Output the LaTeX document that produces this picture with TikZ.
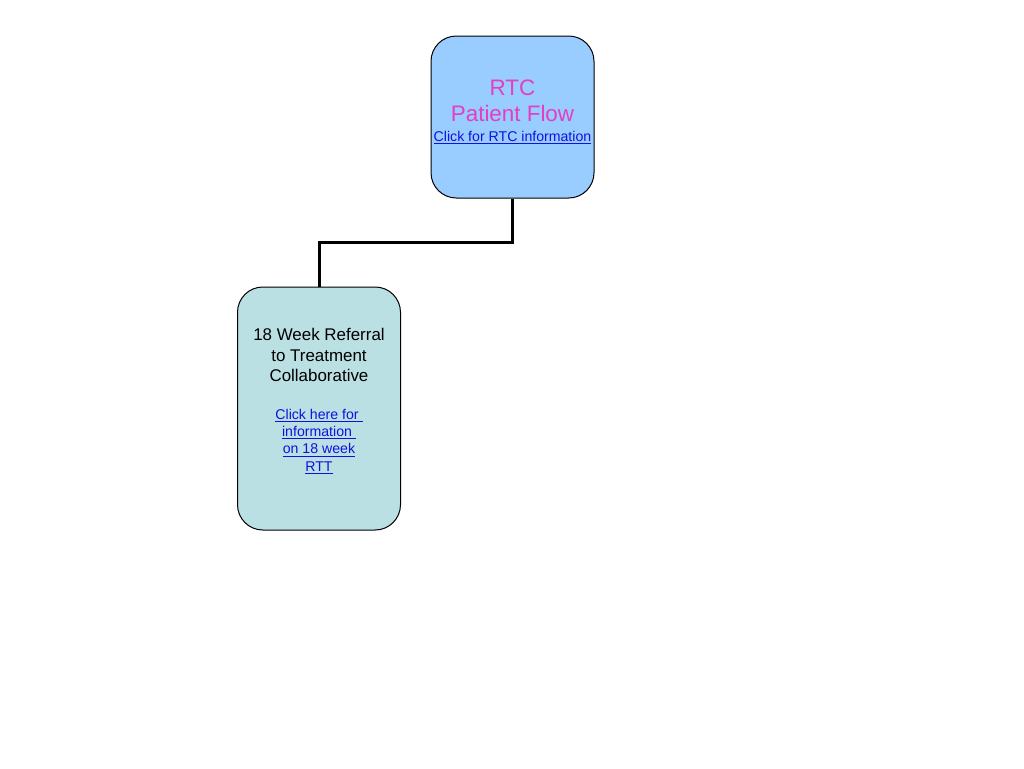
\documentclass[tikz,border=0pt]{standalone}
\usepackage{fontspec}
\setmainfont{Liberation Sans}
\definecolor{rtcblue}{HTML}{99CCFF}
\definecolor{rttteal}{HTML}{BBE0E3}
\definecolor{rtcpink}{HTML}{E33FC4}
\definecolor{linkblue}{HTML}{1010E0}
\newcommand{\lnk}[1]{\underline{#1}}
\begin{document}
\begin{tikzpicture}[x=0.75pt, y=-0.75pt, ultra thick]
\useasboundingbox (0,0) rectangle (1024,768);
   \begin{scope}[every node/.style={draw=black, line width=0.75pt, rounded corners=19pt, minimum width=122.25pt}]
\node [fill=rtcblue, minimum height=121.5pt] (rtc) at (512.5,117) {};
\node [fill=rttteal, minimum height=182.25pt] (rtt) at (319,408.5) {};
  \end{scope}
   \begin{scope}[every node/.style={align=center, inner sep=0pt}]
\node [text=rtcpink, font=\fontsize{16.8}{19.5}\selectfont] (rtc title) at (512.5,101) {RTC\\Patient Flow};
\node [text=linkblue, font=\fontsize{10.6}{13}\selectfont] (rtc link) at (512.5,137.5) {\lnk{Click for RTC information}};
\node [font=\fontsize{12.7}{15.4}\selectfont] (rtt title) at (319,355) {18 Week Referral\\to Treatment\\Collaborative};
\node [text=linkblue, font=\fontsize{10.6}{13}\selectfont] (rtt link) at (319,441.5) {\lnk{Click here for\ }\\\lnk{information\ }\\\lnk{on 18 week}\\\lnk{RTT}};
  \end{scope}
\draw [line width=2.25pt] (rtc.south) -- ++(0,43.5) -| (rtt.north);
\end{tikzpicture}
\end{document}
